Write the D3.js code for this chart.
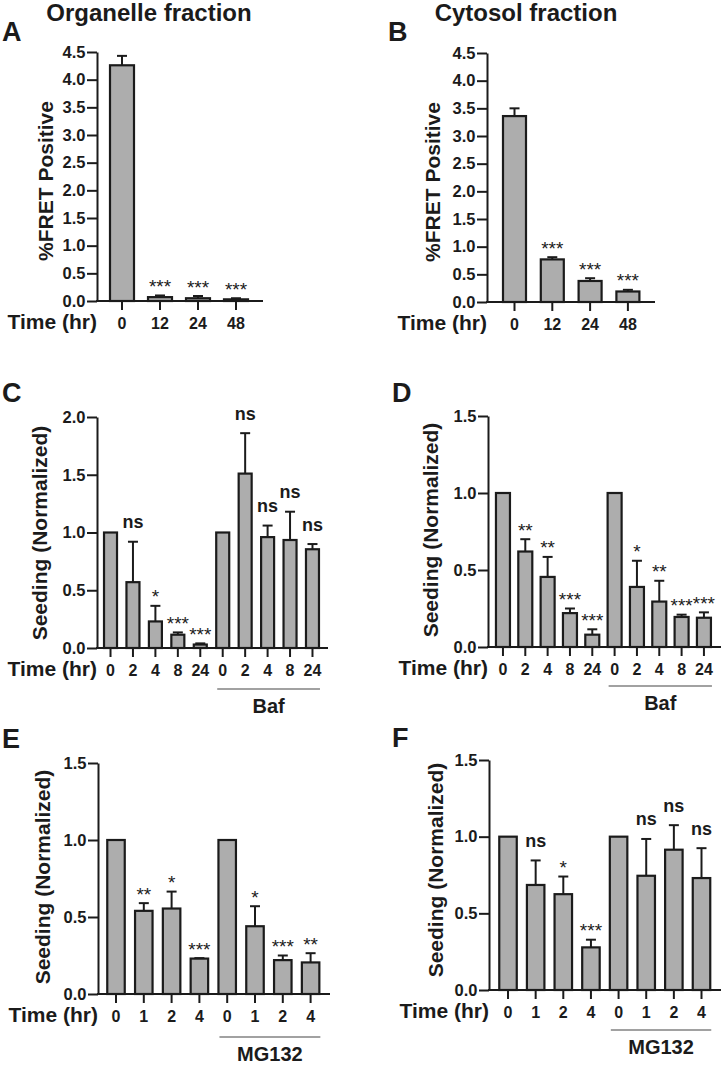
<!DOCTYPE html>
<html><head><meta charset="utf-8">
<script src="https://cdn.jsdelivr.net/npm/d3@7/dist/d3.min.js"></script>
<style>
body{margin:0;background:#fff}
svg{display:block}
text{font-family:"Liberation Sans",Arial,Helvetica,sans-serif}
</style>
</head><body>
<svg id="fig" width="722" height="1071"></svg>
<script>
// ---------- data ----------
const catsA = ["0","12","24","48"];
const meanA = [4.26, 0.07, 0.05, 0.03];
const errA  = [0.17, 0.03, 0.04, 0.02];
const sigA  = ["", "***", "***", "***"];

const catsB = ["0","12","24","48"];
const meanB = [3.36, 0.77, 0.38, 0.19];
const errB  = [0.14, 0.04, 0.05, 0.03];
const sigB  = ["", "***", "***", "***"];

const catsC = ["0","2","4","8","24","0","2","4","8","24"];
const meanC = [1.0, 0.57, 0.23, 0.115, 0.03, 1.0, 1.51, 0.96, 0.935, 0.855];
const errC  = [0, 0.35, 0.135, 0.02, 0.01, 0, 0.35, 0.10, 0.245, 0.045];
const sigC  = ["", "ns", "*", "***", "***", "", "ns", "ns", "ns", "ns"];

const catsD = ["0","2","4","8","24","0","2","4","8","24"];
const meanD = [1.0, 0.62, 0.455, 0.22, 0.08, 1.0, 0.39, 0.295, 0.195, 0.19];
const errD  = [0, 0.08, 0.13, 0.03, 0.035, 0, 0.17, 0.135, 0.015, 0.035];
const sigD  = ["", "**", "**", "***", "***", "", "*", "**", "***", "***"];

const catsE = ["0","1","2","4","0","1","2","4"];
const meanE = [1.0, 0.54, 0.555, 0.23, 1.0, 0.44, 0.22, 0.205];
const errE  = [0, 0.05, 0.11, 0.003, 0, 0.13, 0.03, 0.06];
const sigE  = ["", "**", "*", "***", "", "*", "***", "**"];

const catsF = ["0","1","2","4","0","1","2","4"];
const meanF = [1.0, 0.685, 0.625, 0.278, 1.0, 0.745, 0.915, 0.73];
const errF  = [0, 0.16, 0.115, 0.05, 0, 0.24, 0.16, 0.195];
const sigF  = ["", "ns", "*", "***", "", "ns", "ns", "ns"];

const titles = ["Organelle fraction", "Cytosol fraction"];
const yLabelTop = "%FRET Positive";
const yLabelSeed = "Seeding (Normalized)";
const xLabel = "Time (hr)";

// ---------- drawing ----------
const svg = d3.select("#fig");
const FILL = "#adadad", INK = "#1b1b1b";
const FONT = "'Liberation Sans',Arial,Helvetica,sans-serif";

function panel(cfg, cats, means, errs, sigs) {
  const g = svg.append("g");
  const y = d3.scaleLinear().domain([0, cfg.max]).range([cfg.y0, cfg.yTop]);
  const p = 1 - cfg.bw / cfg.step;
  const x = d3.scaleBand().domain(d3.range(cats.length))
    .range([cfg.x0, cfg.x0 + cfg.step * cats.length])
    .paddingInner(p).paddingOuter(p / 2);
  const bw = x.bandwidth();
  const cx = i => x(i) + bw / 2;

  // bars
  g.selectAll("rect.bar").data(means).join("rect")
    .attr("x", (d, i) => x(i)).attr("y", d => y(d))
    .attr("width", bw).attr("height", d => cfg.y0 - y(d))
    .attr("fill", FILL).attr("stroke", INK).attr("stroke-width", 2.2);

  // error bars (upper only)
  const eb = g.selectAll("g.err").data(means.map((m, i) => ({m, e: errs[i], i})).filter(d => d.e > 0))
    .join("g");
  eb.append("line").attr("x1", d => cx(d.i)).attr("x2", d => cx(d.i))
    .attr("y1", d => y(d.m)).attr("y2", d => y(d.m + d.e))
    .attr("stroke", INK).attr("stroke-width", 2);
  eb.append("line").attr("x1", d => cx(d.i) - 5).attr("x2", d => cx(d.i) + 5)
    .attr("y1", d => y(d.m + d.e)).attr("y2", d => y(d.m + d.e))
    .attr("stroke", INK).attr("stroke-width", 2);

  // significance
  g.selectAll("text.sig").data(sigs.map((s, i) => ({s, i})).filter(d => d.s !== "")).join("text")
    .attr("x", d => cx(d.i))
    .attr("y", d => {
      const top = y(means[d.i] + errs[d.i]);
      return d.s === "ns" ? top - 13.5 : top - 2.5;
    })
    .attr("text-anchor", "middle")
    .attr("font-size", d => d.s === "ns" ? 18 : 19)
    .attr("font-weight", d => d.s === "ns" ? "bold" : "normal")
    .attr("fill", INK)
    .text(d => d.s);

  // y axis
  const ya = g.append("g").attr("transform", `translate(${cfg.ax},0)`)
    .call(d3.axisLeft(y).tickValues(d3.range(0, cfg.max + 1e-6, 0.5))
      .tickFormat(d3.format(".1f")).tickSize(10).tickPadding(1.5).tickSizeOuter(0));
  ya.select(".domain").attr("stroke", INK).attr("stroke-width", 2);
  ya.selectAll(".tick line").attr("stroke", INK).attr("stroke-width", 2);
  ya.selectAll(".tick text").attr("fill", INK).attr("font-size", 16.5).attr("font-weight", "bold")
    .attr("font-family", FONT);

  // x axis
  const xa = g.append("g").attr("transform", `translate(0,${cfg.y0})`)
    .call(d3.axisBottom(x).tickFormat(i => cats[i]).tickSize(9).tickPadding(3).tickSizeOuter(0));
  xa.select(".domain").remove();
  xa.selectAll(".tick line").attr("stroke", INK).attr("stroke-width", 2);
  xa.selectAll(".tick text").attr("fill", INK).attr("font-size", 16).attr("font-weight", "bold")
    .attr("font-family", FONT).attr("y", 28).attr("dy", 0);
  g.append("line").attr("x1", cfg.ax - 1).attr("x2", cfg.xEnd)
    .attr("y1", cfg.y0).attr("y2", cfg.y0).attr("stroke", INK).attr("stroke-width", 2);

  // x label
  g.append("text").attr("x", cfg.ax).attr("y", cfg.y0 + 28).attr("text-anchor", "end")
    .attr("font-size", 21).attr("font-weight", "bold").attr("fill", INK).text(xLabel);

  // y label
  g.append("text").attr("transform", `translate(${cfg.ylx},${cfg.yly}) rotate(-90)`)
    .attr("text-anchor", "middle").attr("font-size", 21).attr("font-weight", "bold")
    .attr("fill", INK).text(cfg.ylabel);

  // panel letter
  g.append("text").attr("x", cfg.lx).attr("y", cfg.ly).attr("font-size", 27)
    .attr("font-weight", "bold").attr("fill", INK).text(cfg.letter);

  // title
  if (cfg.title) {
    g.append("text").attr("x", cfg.tx).attr("y", 21).attr("text-anchor", "middle")
      .attr("font-size", 24).attr("font-weight", "bold").attr("fill", INK).text(cfg.title);
  }

  // group bracket
  if (cfg.group) {
    const [a, b] = cfg.group.range;
    const x1 = x(a) + 1, x2 = x(b) + bw + 1;
    g.append("line").attr("x1", x1).attr("x2", x2).attr("y1", cfg.group.y).attr("y2", cfg.group.y)
      .attr("stroke", "#444").attr("stroke-width", 1.2);
    g.append("text").attr("x", (x1 + x2) / 2).attr("y", cfg.group.y + 24).attr("text-anchor", "middle")
      .attr("font-size", 20).attr("font-weight", "bold").attr("fill", INK).text(cfg.group.label);
  }
}

panel({letter:"A", lx:2, ly:41, title:titles[0], tx:149, ax:97, y0:301, yTop:52, max:4.5,
       x0:103, step:38, bw:24, xEnd:263, ylabel:yLabelTop, ylx:53, yly:181},
      catsA, meanA, errA, sigA);
panel({letter:"B", lx:388, ly:41, title:titles[1], tx:526, ax:487, y0:302, yTop:53, max:4.5,
       x0:495.6, step:37.8, bw:23, xEnd:655, ylabel:yLabelTop, ylx:440, yly:182},
      catsB, meanB, errB, sigB);
panel({letter:"C", lx:2, ly:402, ax:97, y0:648, yTop:417, max:2.0,
       x0:99.3, step:22.44, bw:13, xEnd:328, ylabel:yLabelSeed, ylx:47, yly:533,
       group:{range:[5,9], y:689, label:"Baf"}},
      catsC, meanC, errC, sigC);
panel({letter:"D", lx:392, ly:402, ax:488, y0:647, yTop:416, max:1.5,
       x0:491.8, step:22.33, bw:14, xEnd:721, ylabel:yLabelSeed, ylx:438, yly:530,
       group:{range:[5,9], y:686, label:"Baf"}},
      catsD, meanD, errD, sigD);
panel({letter:"E", lx:2, ly:748, ax:98, y0:994, yTop:763, max:1.5,
       x0:102.1, step:27.8, bw:17.5, xEnd:330, ylabel:yLabelSeed, ylx:50, yly:877,
       group:{range:[4,7], y:1037, label:"MG132"}},
      catsE, meanE, errE, sigE);
panel({letter:"F", lx:392, ly:747, ax:489, y0:990, yTop:760, max:1.5,
       x0:494.2, step:27.64, bw:17.5, xEnd:721, ylabel:yLabelSeed, ylx:443, yly:870,
       group:{range:[4,7], y:1030, label:"MG132"}},
      catsF, meanF, errF, sigF);
</script>
</body></html>
